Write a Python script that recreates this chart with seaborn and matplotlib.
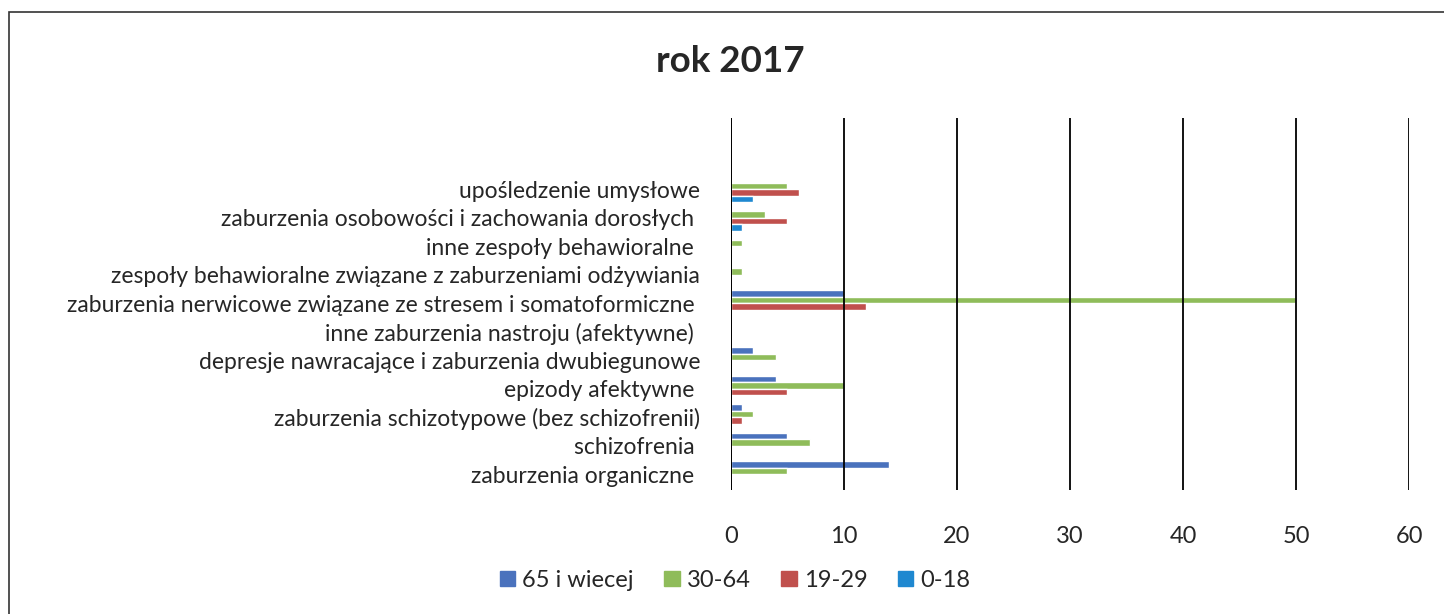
import pandas as pd
import matplotlib
matplotlib.use("Agg")
import matplotlib.pyplot as plt
import seaborn as sns
from matplotlib.patches import Rectangle

# kategorie od góry do dołu
kategorie = [
    "upośledzenie umysłowe",
    "zaburzenia osobowości i zachowania dorosłych ",
    "inne zespoły behawioralne ",
    "zespoły behawioralne związane z zaburzeniami odżywiania",
    "zaburzenia nerwicowe związane ze stresem i somatoformiczne ",
    "inne zaburzenia nastroju (afektywne) ",
    "depresje nawracające i zaburzenia dwubiegunowe",
    "epizody afektywne ",
    "zaburzenia schizotypowe (bez schizofrenii)",
    "schizofrenia ",
    "zaburzenia organiczne ",
]
grupy = ["65 i wiecej", "30-64", "19-29", "0-18"]

wiek_65 = [0, 0, 0, 0, 10, 0, 2, 4, 1, 5, 14]
wiek_30_64 = [5, 3, 1, 1, 50, 0, 4, 10, 2, 7, 5]
wiek_19_29 = [6, 5, 0, 0, 12, 0, 0, 5, 1, 0, 0]
wiek_0_18 = [2, 1, 0, 0, 0, 0, 0, 0, 0, 0, 0]

kolory = ["#4a72bd", "#8fbc5a", "#c0504d", "#1f88d0"]

dane = pd.DataFrame({
    "kategoria": kategorie * 4,
    "grupa": sum([[g] * len(kategorie) for g in grupy], []),
    "liczba": wiek_65 + wiek_30_64 + wiek_19_29 + wiek_0_18,
})

sns.set_style("white")
plt.rcParams["font.family"] = ["Lato", "DejaVu Sans"]

fig = plt.figure(figsize=(14.44, 6.14), dpi=100)
ax = fig.add_axes([0.506, 0.202, 0.470, 0.606])

sns.barplot(data=dane, y="kategoria", x="liczba", hue="grupa", order=kategorie,
            hue_order=grupy, palette=kolory, orient="h", width=0.92,
            saturation=1, ax=ax, legend=False)

ax.set_xlim(0, 60)
ax.set_ylim(10.55, -2.5)
ax.set_xticks(range(0, 61, 10))
ax.grid(axis="x", color="black", linewidth=1.3)
ax.set_axisbelow(False)
for s in ax.spines.values():
    s.set_visible(False)
ax.axvline(0, color="black", linewidth=1.3)
ax.tick_params(axis="x", length=0, pad=26, labelsize=17)
ax.tick_params(axis="y", length=0, pad=22, labelsize=16.5)
ax.set_xlabel("")
ax.set_ylabel("")

fig.text(0.506, 0.90, "rok 2017", ha="center", va="center", fontsize=26.5,
         fontweight="bold")

uchwyty = [Rectangle((0, 0), 1, 1, color=c) for c in kolory]
fig.legend(uchwyty, grupy, loc="center", bbox_to_anchor=(0.509, 0.055),
           ncol=4, frameon=False, fontsize=17, handlelength=0.65,
           handleheight=0.65, handletextpad=0.3, columnspacing=1.3)

# ramka wykresu
fig.patches.append(Rectangle((0.006, -0.1), 1.1, 1.08, transform=fig.transFigure,
                             fill=False, edgecolor="#333333", linewidth=1.2))

fig.savefig("out.png", dpi=100)
